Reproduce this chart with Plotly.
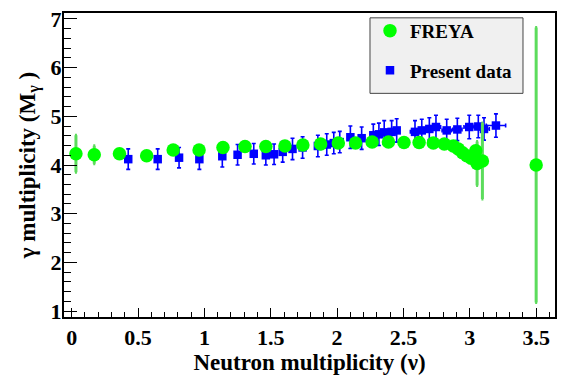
import plotly.graph_objects as go

# FREYA (green circles)
freya_x = [0.032, 0.17, 0.36, 0.565, 0.765, 0.96, 1.14, 1.306, 1.463, 1.607, 1.742, 1.876,
           2.009, 2.139, 2.264, 2.387, 2.504, 2.618, 2.725, 2.808, 2.876, 2.913, 2.945,
           2.977, 3.01, 3.045, 3.055, 3.095, 3.5]
freya_y = [4.23, 4.21, 4.23, 4.19, 4.31, 4.31, 4.36, 4.38, 4.38, 4.39, 4.41, 4.43,
           4.45, 4.45, 4.47, 4.47, 4.46, 4.46, 4.45, 4.43, 4.39, 4.33, 4.25,
           4.19, 4.14, 4.29, 4.03, 4.08, 4.00]
freya_err = [0.38, 0.185, 0.08, 0.07, 0.07, 0.06, 0.06, 0.05, 0.05, 0.05, 0.05, 0.05,
             0.05, 0.05, 0.05, 0.05, 0.05, 0.05, 0.05, 0.05, 0.05, 0.05, 0.05,
             0.06, 0.06, 0.08, 0.45, 0.78, 2.82]

# Present data (blue squares)
data_x = [0.426, 0.648, 0.809, 0.962, 1.135, 1.250, 1.372, 1.463, 1.525, 1.590, 1.664,
          1.740, 1.855, 1.922, 1.975, 2.020, 2.100, 2.185, 2.273, 2.315, 2.355, 2.411,
          2.449, 2.587, 2.638, 2.695, 2.745, 2.826, 2.906, 2.996, 3.064, 3.107, 3.197]
data_y = [4.12, 4.12, 4.15, 4.12, 4.18, 4.21, 4.23, 4.20, 4.22, 4.27, 4.33,
          4.36, 4.39, 4.42, 4.45, 4.47, 4.57, 4.55, 4.61, 4.63, 4.67, 4.68,
          4.71, 4.68, 4.71, 4.74, 4.78, 4.71, 4.73, 4.78, 4.79, 4.74, 4.81]
data_yerr = [0.21, 0.21, 0.21, 0.21, 0.22, 0.21, 0.21, 0.20, 0.21, 0.21, 0.22,
             0.22, 0.22, 0.22, 0.22, 0.22, 0.23, 0.23, 0.23, 0.23, 0.24, 0.23,
             0.24, 0.23, 0.23, 0.23, 0.24, 0.23, 0.23, 0.24, 0.23, 0.23, 0.24]
data_xerr = [0.02, 0.02, 0.02, 0.02, 0.02, 0.02, 0.02, 0.02, 0.02, 0.02, 0.02,
             0.02, 0.02, 0.02, 0.02, 0.02, 0.02, 0.02, 0.02, 0.02, 0.02, 0.02,
             0.02, 0.035, 0.035, 0.035, 0.035, 0.035, 0.035, 0.04, 0.04, 0.04, 0.073]

FONT = "Liberation Serif, Times New Roman, serif"

fig = go.Figure()
fig.add_trace(go.Scatter(
    x=data_x, y=data_y, mode="markers", name="Present data", legendrank=2,
    legendgroup="b",
    marker=dict(symbol="square", size=8.5, color="#0000ff"),
    error_y=dict(type="data", array=data_yerr, color="#0000ff", thickness=1.6, width=2),
    error_x=dict(type="data", array=data_xerr, color="#0000ff", thickness=1.6, width=2),
))
fig.add_trace(go.Scatter(
    x=freya_x, y=freya_y, mode="markers", name="FREYA", legendrank=1,
    legendgroup="a",
    marker=dict(symbol="circle", size=13.5, color="#00ff00"),
    error_y=dict(type="data", array=freya_err, color="#5cdc5c", thickness=3, width=1),
))

fig.add_shape(type="rect", xref="paper", yref="paper",
              x0=0.6232, x1=0.9348, y0=0.7357, y1=0.9841,
              fillcolor="#f0f0f0", line=dict(color="#444444", width=1), layer="above")

fig.update_layout(
    width=564, height=377,
    margin=dict(l=64, r=9, t=7, b=56),
    paper_bgcolor="white", plot_bgcolor="white",
    font=dict(family=FONT, size=19, color="black", weight="bold"),
    showlegend=True,
    legend=dict(x=0.6232, y=1.004, xanchor="left", yanchor="top",
                bgcolor="rgba(0,0,0,0)", borderwidth=0, tracegroupgap=12,
                font=dict(family=FONT, size=19, color="black", weight="bold")),
    xaxis=dict(
        range=[-0.058, 3.642], tickmode="linear", tick0=0, dtick=0.5,
        ticks="inside", ticklen=9, tickwidth=1, tickcolor="black",
        minor=dict(ticks="inside", dtick=0.1, ticklen=5, tickcolor="black", tickwidth=1),
        showline=True, linecolor="black", linewidth=2, mirror=True,
        showgrid=False, zeroline=False,
        tickfont=dict(family=FONT, size=22, color="black", weight="bold"),
        title=dict(text="Neutron multiplicity (ν)", standoff=3,
                   font=dict(family=FONT, size=23, color="black", weight="bold")),
    ),
    yaxis=dict(
        range=[0.88, 7.12], tickmode="linear", tick0=1, dtick=1,
        ticks="inside", ticklen=13, tickwidth=1, tickcolor="black",
        minor=dict(ticks="inside", dtick=0.2, ticklen=7, tickcolor="black", tickwidth=1),
        showline=True, linecolor="black", linewidth=2, mirror=True,
        showgrid=False, zeroline=False, ticklabelstandoff=-4,
        tickfont=dict(family=FONT, size=22, color="black", weight="bold"),
        title=dict(text="γ multiplicity (M<sub>γ</sub> )", standoff=9,
                   font=dict(family=FONT, size=23, color="black", weight="bold")),
    ),
)

fig.write_html("out.html")
